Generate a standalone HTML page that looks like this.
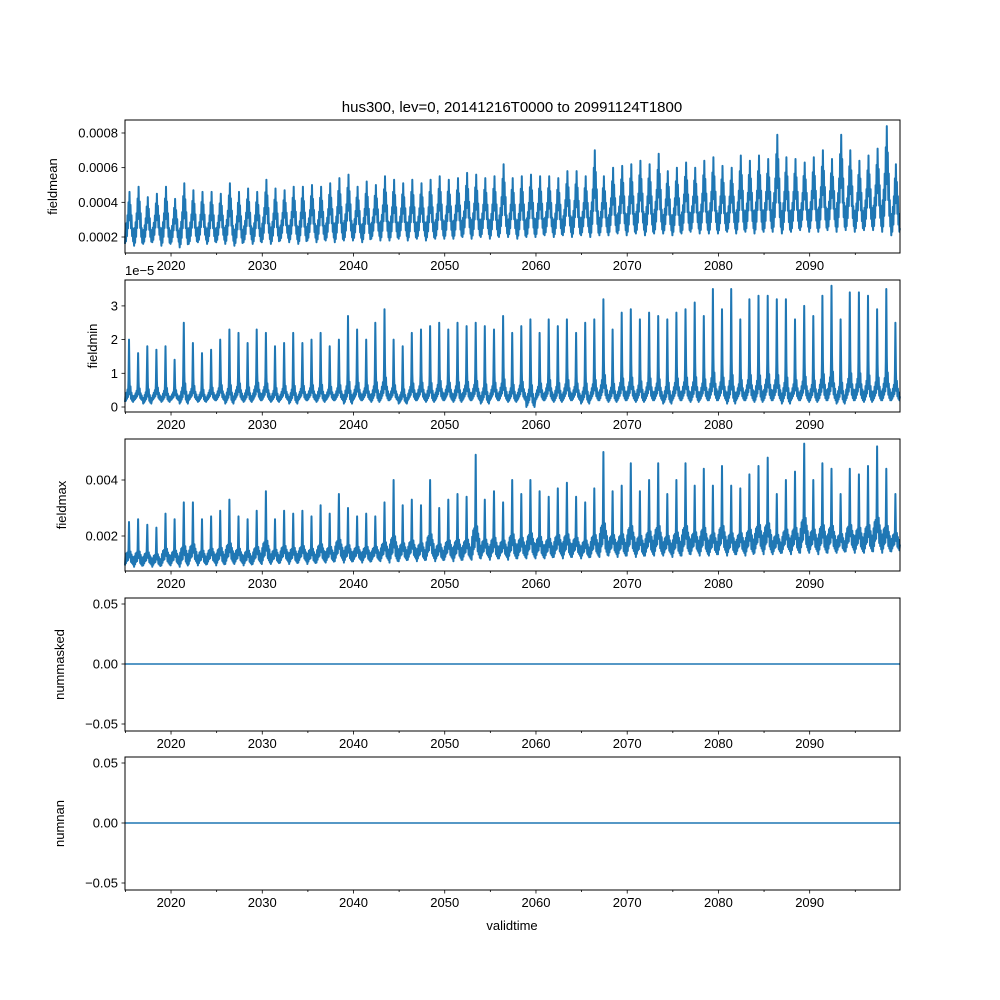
<!DOCTYPE html>
<html><head><meta charset="utf-8">
<style>
html,body{margin:0;padding:0;background:#fff;}
svg{display:block;font-family:"Liberation Sans","DejaVu Sans",sans-serif;}
</style></head>
<body>
<svg id="chart" width="1000" height="1000" xmlns="http://www.w3.org/2000/svg">
<rect width="1000" height="1000" fill="#fff"/>
<text x="512" y="112" font-size="15" text-anchor="middle">hus300, lev=0, 20141216T0000 to 20991124T1800</text>
<text x="512" y="930" font-size="13" text-anchor="middle">validtime</text>
</svg>
<script>
const years = [];
for (let y = 2015; y <= 2099; y++) years.push(y);
const meanHigh = [4.6,4.9,4.3,4.5,4.9,
4.2,5.1,4.7,4.6,4.6,4.5,5.1,4.6,4.8,4.6,
5.3,4.8,4.7,4.9,4.9,5.0,4.9,5.1,5.4,5.6,
4.9,5.2,5.0,5.5,5.3,5.1,5.3,5.1,5.3,5.5,
5.3,5.4,5.7,5.6,5.4,5.5,6.2,5.4,5.5,5.6,
5.5,5.5,5.4,5.8,5.8,5.5,7.0,5.5,6.0,6.1,
6.2,6.4,6.2,6.8,5.8,6.0,6.3,6.0,6.4,6.6,
6.1,6.0,6.7,6.4,6.7,6.5,7.9,6.6,6.5,6.3,
6.6,7.0,6.5,7.9,7.0,6.4,6.7,7.1,8.4,6.2];
const meanLow = [1.6,1.5,1.6,1.7,1.5,
1.6,1.4,1.6,1.7,1.6,1.7,1.6,1.5,1.7,1.6,
1.7,1.6,1.8,1.7,1.6,1.8,1.7,1.8,1.7,1.8,
1.8,1.7,1.9,1.8,1.8,1.9,1.8,1.9,1.8,1.9,
1.9,1.9,2.0,1.9,2.0,1.9,2.0,2.0,1.9,2.0,
2.0,2.1,2.0,2.1,2.0,2.1,2.0,2.1,2.1,2.2,
2.1,2.2,2.1,2.2,2.2,2.1,2.2,2.3,2.2,2.2,
2.2,2.3,2.2,2.3,2.2,2.3,2.3,2.2,2.3,2.4,
2.3,2.3,2.4,2.3,2.4,2.3,2.4,2.4,2.3,2.1];
const minHigh = [2.0,1.6,1.8,1.7,1.8,
1.4,2.5,1.9,1.6,1.7,2.0,2.3,2.2,1.9,2.3,
2.2,1.8,1.9,2.2,1.9,2.0,2.2,1.8,2.0,2.7,
2.3,2.0,2.5,2.9,2.0,1.8,2.2,2.3,2.4,2.5,
2.3,2.5,2.4,2.5,2.4,2.3,2.7,2.2,2.4,2.6,
2.2,2.6,2.4,2.6,2.2,2.5,2.6,3.2,2.3,2.8,
2.9,2.6,2.8,2.7,2.6,2.8,2.9,3.1,2.7,3.5,
2.9,3.5,2.6,3.2,3.3,3.3,3.2,3.2,2.6,3.0,
2.7,3.3,3.6,2.6,3.4,3.4,3.3,2.9,3.5,2.5];
const minLow = [0.15,0.2,0.1,0.2,0.15,
0.2,0.1,0.2,0.15,0.2,0.2,0.1,0.2,0.15,0.2,
0.2,0.15,0.2,0.1,0.2,0.2,0.15,0.2,0.2,0.1,
0.2,0.2,0.15,0.2,0.2,0.1,0.2,0.2,0.15,0.2,
0.2,0.15,0.2,0.2,0.1,0.2,0.2,0.15,0.2,0.0,
0.2,0.2,0.15,0.2,0.2,0.1,0.2,0.2,0.15,0.2,
0.2,0.15,0.2,0.2,0.1,0.2,0.2,0.15,0.2,0.2,
0.2,0.1,0.2,0.2,0.15,0.2,0.2,0.1,0.2,0.2,
0.15,0.2,0.2,0.1,0.2,0.2,0.15,0.2,0.2,0.2];
const maxHigh = [2.5,2.6,2.4,2.3,2.8,
2.6,3.2,3.2,2.6,2.7,2.9,3.3,2.7,2.6,2.9,
3.6,2.6,2.9,2.8,2.9,2.7,3.1,2.8,3.5,3.0,
2.7,2.8,2.7,3.2,4.0,3.1,3.3,3.1,4.0,3.0,
3.3,3.5,3.4,4.9,3.3,3.6,3.2,4.0,3.5,4.0,
3.6,3.4,3.7,3.9,3.4,3.2,3.7,5.0,3.6,3.8,
4.6,3.6,4.0,4.6,3.5,4.0,4.6,3.8,4.4,3.8,
4.5,3.8,3.7,4.2,4.5,4.8,3.5,4.0,4.3,5.3,
4.0,4.6,4.4,3.5,4.4,4.2,4.5,5.2,4.4,3.5];
const maxLow = [0.95,0.9,0.95,0.9,0.95,
0.95,0.9,1.0,0.95,1.0,0.95,1.0,1.0,0.95,1.0,
1.0,1.0,1.05,1.0,1.05,1.0,1.05,1.05,1.1,1.05,
1.1,1.05,1.1,1.1,1.05,1.1,1.15,1.1,1.15,1.1,
1.15,1.1,1.15,1.15,1.2,1.15,1.2,1.15,1.2,1.2,
1.2,1.2,1.25,1.2,1.25,1.2,1.25,1.25,1.3,1.25,
1.3,1.25,1.3,1.3,1.3,1.25,1.3,1.35,1.3,1.3,
1.35,1.3,1.35,1.3,1.4,1.35,1.35,1.4,1.35,1.4,
1.4,1.35,1.4,1.4,1.45,1.4,1.4,1.45,1.4,1.45];
const xTicks = [2020,2030,2040,2050,2060,2070,2080,2090];
const meanTicks = [0.0002,0.0004,0.0006,0.0008];
const minTicks = [0,1,2,3];
const maxTicks = [0.002,0.004];
const zeroTicks = [-0.05,0,0.05];

const NS = "http://www.w3.org/2000/svg";
const svg = document.getElementById('chart');
const X0 = 125, X1 = 900;
const T0 = 2014.955, T1 = 2099.9;
function xs(t){ return X0 + (t - T0) / (T1 - T0) * (X1 - X0); }
function mk(tag, attrs, parent){
  const e = document.createElementNS(NS, tag);
  for (const k in attrs) e.setAttribute(k, attrs[k]);
  (parent || svg).appendChild(e);
  return e;
}
const shapeMean = [0,0.3,0.05,0.4,0.15,0.55,0.3,0.8,0.45,1,0.5,0.75,0.3,0.55,0.15,0.3,0.05,0.1];
const shapeMin = [0,0.1,0.02,0.15,0.05,0.2,0.08,0.35,1,0.4,0.12,0.25,0.05,0.15,0.02,0.1,0,0.05];
const shapeMax = [0,0.22,0.05,0.28,0.1,0.3,0.12,0.38,1,0.35,0.18,0.32,0.08,0.25,0.05,0.2,0.02,0.12];

function panel(cfg){
  const g = mk('g', {});
  
  
  const top = cfg.top, bot = cfg.bot;
  if (cfg.high) {
    let d = '';
    for (let i = 0; i < years.length; i++) {
      const sh = cfg.shape;
      for (let j = 0; j < sh.length; j++) {
        const t = years[i] - 0.05 + j / sh.length;
        if (t > T1) break;
        const v = cfg.low[i] + sh[j] * (cfg.high[i] - cfg.low[i]);
        d += (d ? 'L' : 'M') + xs(Math.max(t, T0)).toFixed(1) + ',' + cfg.ys(v).toFixed(1);
      }
    }
    const p = mk('path', {d: d, fill: 'none', stroke: '#1f77b4', 'stroke-width': 2.0, 'stroke-linejoin': 'round'}, g);
    
    
  } else {
    const l = mk('line', {x1: X0, x2: X1, y1: cfg.ys(0), y2: cfg.ys(0), stroke: '#1f77b4', 'stroke-width': 1.6}, g);
    
    
  }
  const fr = mk('rect', {x: X0, y: top, width: X1 - X0, height: bot - top, fill: 'none', stroke: '#000', 'stroke-width': 1}, g);
  
  
  for (let y = 2015; y <= 2095; y += 5) {
    const x = xs(y);
    const major = y % 10 === 0;
    mk('line', {x1: x, x2: x, y1: bot, y2: bot + (major ? 3.5 : 2), stroke: '#000', 'stroke-width': 0.8}, g);
    if (major) {
      const tx = mk('text', {x: x, y: bot + 17, 'font-size': 13, 'text-anchor': 'middle'}, g);
      tx.textContent = y;
      
      
    }
  }
  cfg.ticks.forEach(v => {
    const y = cfg.ys(v);
    mk('line', {x1: X0 - 3.5, x2: X0, y1: y, y2: y, stroke: '#000', 'stroke-width': 0.8}, g);
    const tx = mk('text', {x: X0 - 7, y: y + 4.5, 'font-size': 13, 'text-anchor': 'end'}, g);
    tx.textContent = cfg.fmt(v);
    
    
  });
  const yl = mk('text', {x: cfg.lx, y: (top + bot) / 2, 'font-size': 13, 'text-anchor': 'middle', transform: 'rotate(-90 ' + cfg.lx + ' ' + ((top + bot) / 2) + ')'}, g);
  yl.textContent = cfg.name;
  
  
}
const fz = v => v === 0 ? '0.00' : (v < 0 ? '\u22120.05' : '0.05');
panel({name: 'fieldmean', top: 120, bot: 253, lx: 57, high: meanHigh, low: meanLow, shape: shapeMean,
  ys: v => 237 - (v * (v > 0.01 ? 1e-4 : 1) - 0.0002) / 0.0002 * 34.67,
  ticks: meanTicks, fmt: v => v.toFixed(4)});
panel({name: 'fieldmin', top: 280, bot: 412, lx: 97, high: minHigh, low: minLow, shape: shapeMin,
  ys: v => 407 - v * 33.7, ticks: minTicks, fmt: v => String(v)});
panel({name: 'fieldmax', top: 439, bot: 571, lx: 66, high: maxHigh, low: maxLow, shape: shapeMax,
  ys: v => 536 - (v * (v > 0.1 ? 1e-3 : 1) - 0.002) / 0.002 * 56, ticks: maxTicks, fmt: v => v.toFixed(3)});
panel({name: 'nummasked', top: 598, bot: 731, lx: 64, ys: v => 664 - v / 0.05 * 60, ticks: zeroTicks, fmt: fz});
panel({name: 'numnan', top: 757, bot: 890, lx: 64, ys: v => 823 - v / 0.05 * 60, ticks: zeroTicks, fmt: fz});
const off = mk('text', {x: 125, y: 275, 'font-size': 13});
off.textContent = '1e\u22125';


</script>
</body></html>
